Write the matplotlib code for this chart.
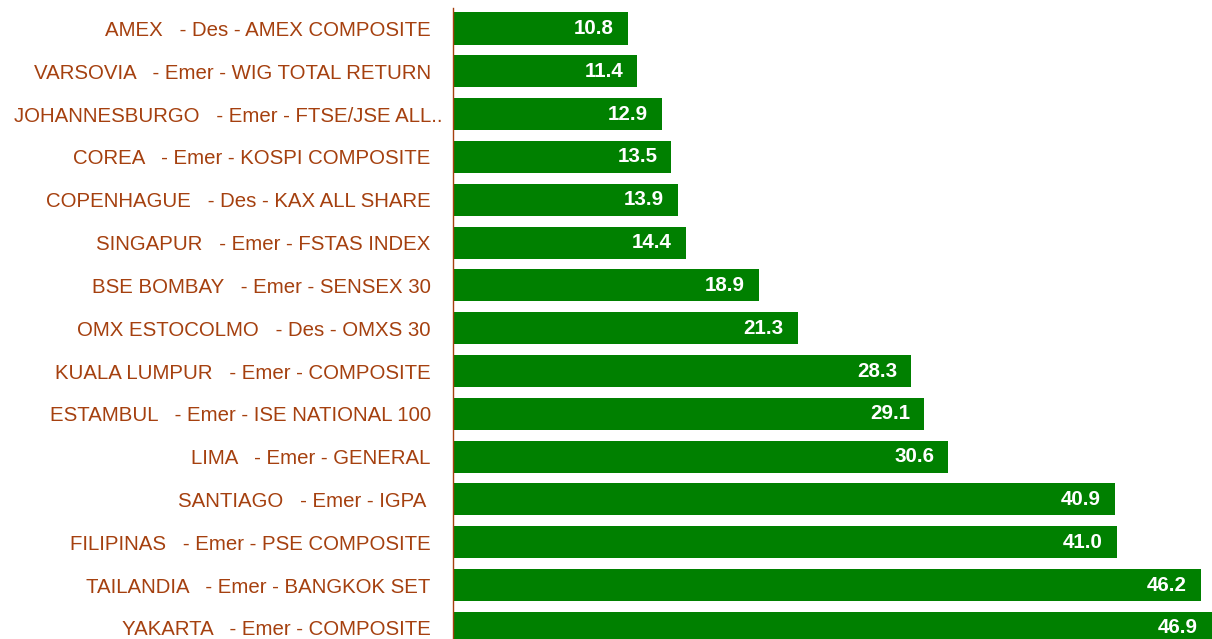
import matplotlib
matplotlib.use('Agg')
import matplotlib.pyplot as plt
import matplotlib.transforms as mtransforms
import numpy as np

plt.rcParams['font.family'] = ['Liberation Sans', 'DejaVu Sans']

# market labels, top to bottom
labels = [
    'AMEX   - Des - AMEX COMPOSITE',
    'VARSOVIA   - Emer - WIG TOTAL RETURN',
    'JOHANNESBURGO   - Emer - FTSE/JSE ALL..',
    'COREA   - Emer - KOSPI COMPOSITE',
    'COPENHAGUE   - Des - KAX ALL SHARE',
    'SINGAPUR   - Emer - FSTAS INDEX',
    'BSE BOMBAY   - Emer - SENSEX 30',
    'OMX ESTOCOLMO   - Des - OMXS 30',
    'KUALA LUMPUR   - Emer - COMPOSITE',
    'ESTAMBUL   - Emer - ISE NATIONAL 100',
    'LIMA   - Emer - GENERAL',
    'SANTIAGO   - Emer - IGPA ',
    'FILIPINAS   - Emer - PSE COMPOSITE',
    'TAILANDIA   - Emer - BANGKOK SET',
    'YAKARTA   - Emer - COMPOSITE',
]
values = [10.8, 11.4, 12.9, 13.5, 13.9, 14.4, 18.9, 21.3, 28.3, 29.1, 30.6, 40.9, 41.0, 46.2, 46.9]

label_color = '#A5400F'
bar_color = '#008000'

fig = plt.figure(figsize=(12.12, 6.39), dpi=100)
ax = fig.add_axes([453 / 1212, 0, 1 - 453 / 1212, 1 - 8 / 639])

y = np.arange(len(values))
ax.barh(y, values, height=0.75, color=bar_color)

for yi, v in zip(y, values):
    ax.annotate('%.1f' % v, xy=(v, yi), xytext=(-14, 0), textcoords='offset pixels',
                ha='right', va='center', color='white', fontweight='bold', fontsize=14.8)

ax.set_xlim(0, max(values))
ax.set_ylim(len(values) - 1 + 0.26, -0.48)
ax.set_yticks(y)
ax.set_yticklabels(labels, fontsize=14.7, color=label_color)
ax.tick_params(axis='y', length=0, pad=16)
ax.set_xticks([])

# the truncated label runs past the others in the original
lab = ax.get_yticklabels()[2]
lab.set_transform(lab.get_transform() + mtransforms.ScaledTranslation(12 / 100, 0, fig.dpi_scale_trans))

for s in ['top', 'right', 'bottom']:
    ax.spines[s].set_visible(False)
ax.spines['left'].set_color(label_color)
ax.spines['left'].set_linewidth(1)

fig.savefig('out.png', dpi=100)
